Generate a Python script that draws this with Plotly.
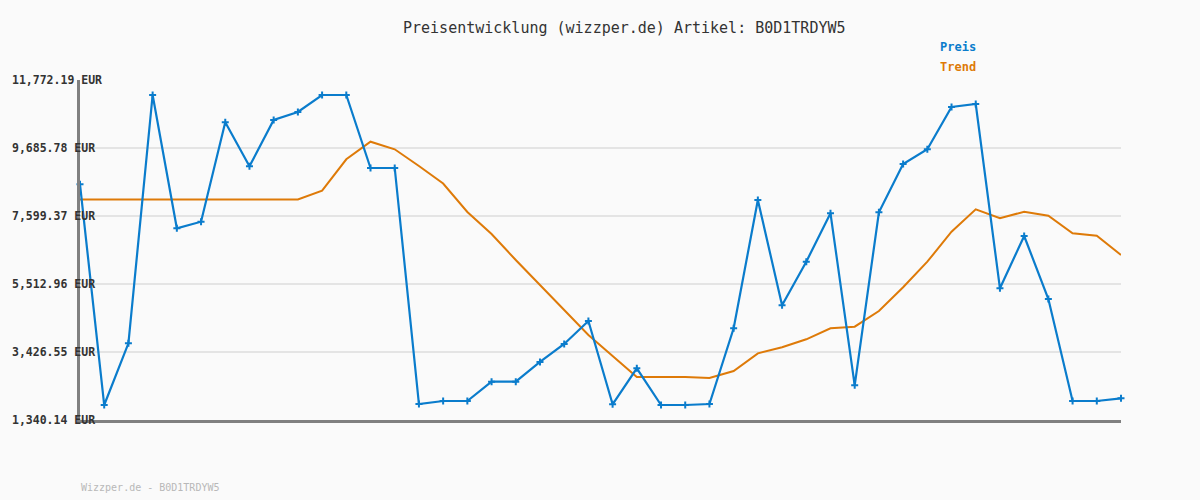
import plotly.graph_objects as go

x_index = list(range(44))

preis = [8572, 1800, 3693, 11312, 7222, 7424, 10474, 9124, 10545, 10790,
         11312, 11312, 9072, 9072, 1831, 1923, 1923, 2515, 2515, 3120,
         3672, 4378, 1822, 2926, 1800, 1800, 1831, 4154, 8090, 4859,
         6197, 7682, 2405, 7713, 9195, 9646, 10944, 11036, 5381, 6986,
         5053, 1923, 1923, 2006]

trend = [8105, 8105, 8105, 8105, 8105, 8105, 8105, 8105, 8105, 8105,
         8376, 9339, 9879, 9646, 9133, 8596, 7722, 7047, 6249, 5482,
         4700, 3948, 3304, 2659, 2659, 2659, 2629, 2843, 3386, 3571,
         3816, 4154, 4203, 4684, 5412, 6197, 7117, 7805, 7529, 7731,
         7608, 7068, 6995, 6403]

y_ticks = [1340.14, 3426.55, 5512.96, 7599.37, 9685.78, 11772.19]
y_labels = ["1,340.14 EUR", "3,426.55 EUR", "5,512.96 EUR",
            "7,599.37 EUR", "9,685.78 EUR", "11,772.19 EUR"]

title_text = "Preisentwicklung (wizzper.de) Artikel: B0D1TRDYW5"
footer_text = "Wizzper.de - B0D1TRDYW5"
series_names = ["Preis", "Trend"]

BLUE = "#0a7ccc"
ORANGE = "#de7a08"
MONO = "DejaVu Sans Mono, monospace"

W, H = 1200, 500
L, R, T, B = 80, 79, 80, 80
PW = W - L - R
PH = H - T - B

fig = go.Figure()
fig.add_trace(go.Scatter(
    x=x_index, y=trend, mode="lines", name=series_names[1],
    line=dict(color=ORANGE, width=2), cliponaxis=False,
))
fig.add_trace(go.Scatter(
    x=x_index, y=preis, mode="lines+markers", name=series_names[0],
    line=dict(color=BLUE, width=2.2),
    marker=dict(symbol="cross-thin", size=5, color=BLUE,
                line=dict(color=BLUE, width=2)),
    cliponaxis=False,
))

def px_x(px):
    return (px - L) / PW

def px_y(py):
    return 1 - (py - T) / PH

annotations = []
for v, lab in zip(y_ticks, y_labels):
    annotations.append(dict(
        x=px_x(10), xref="paper", y=v, yref="y", text="<b>" + lab + "</b>",
        showarrow=False, xanchor="left", yanchor="middle",
        font=dict(family=MONO, size=11.5, color="#333333"),
    ))
annotations.append(dict(
    x=px_x(624), xref="paper", y=px_y(28), yref="paper", text=title_text,
    showarrow=False, xanchor="center", yanchor="middle",
    font=dict(family=MONO, size=15, color="#333333"),
))
annotations.append(dict(
    x=px_x(938), xref="paper", y=px_y(47), yref="paper",
    text="<b>" + series_names[0] + "</b>",
    showarrow=False, xanchor="left", yanchor="middle",
    font=dict(family=MONO, size=12, color=BLUE),
))
annotations.append(dict(
    x=px_x(938), xref="paper", y=px_y(67), yref="paper",
    text="<b>" + series_names[1] + "</b>",
    showarrow=False, xanchor="left", yanchor="middle",
    font=dict(family=MONO, size=12, color=ORANGE),
))
annotations.append(dict(
    x=px_x(79), xref="paper", y=px_y(487), yref="paper", text=footer_text,
    showarrow=False, xanchor="left", yanchor="middle",
    font=dict(family=MONO, size=10, color="#b8b8b8"),
))

fig.update_layout(
    width=W, height=H,
    margin=dict(l=L, r=R, t=T, b=B, pad=0),
    paper_bgcolor="#fafafa", plot_bgcolor="#fafafa",
    showlegend=False,
    annotations=annotations,
    xaxis=dict(range=[0, 43], showgrid=False, zeroline=False,
               showticklabels=False, ticks="",
               showline=True, linecolor="#808080", linewidth=3),
    yaxis=dict(range=[y_ticks[0], y_ticks[-1]], tickvals=y_ticks,
               showgrid=True, gridcolor="#e4e4e4", gridwidth=2,
               zeroline=False, showticklabels=False, ticks="",
               showline=True, linecolor="#808080", linewidth=3),
)

fig.write_html(
    "out.html",
    config={"displayModeBar": False},
    post_script="document.body.style.margin='0';"
                "document.body.style.background='#fafafa';"
                "document.body.style.overflow='hidden';",
)
